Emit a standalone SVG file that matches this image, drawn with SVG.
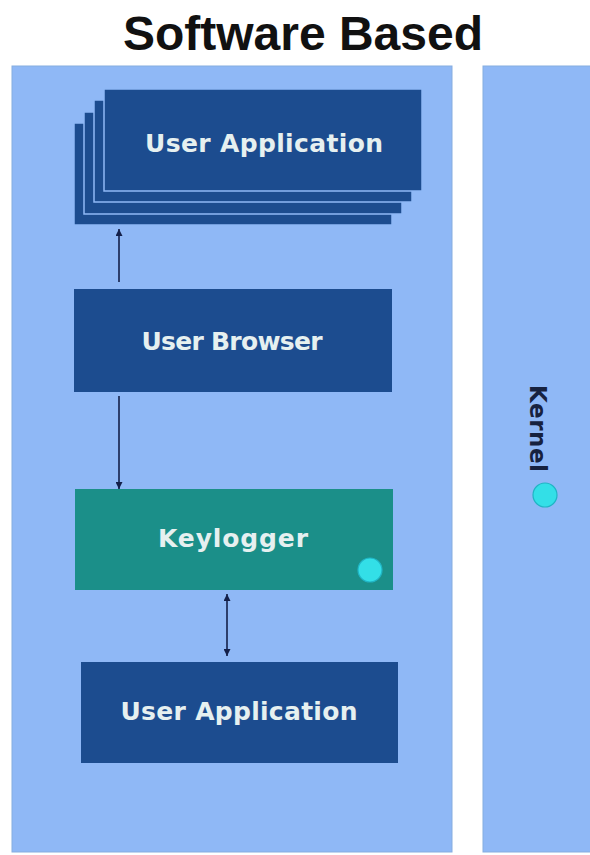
<svg xmlns="http://www.w3.org/2000/svg" width="590" height="855" viewBox="0 0 590 855">
  <defs>
    <style>
      .panel { fill: #8fb8f6; stroke: #86addf; stroke-width: 1; }
      .box { fill: #1c4c8f; }
      .stack { fill: #1c4c8f; stroke: #8fb8f6; stroke-width: 1.5; }
      .kl { fill: #1b8f89; }
      .lbl { font-family: "DejaVu Sans", "Liberation Sans", sans-serif; font-weight: bold; font-size: 25px; fill: #e6f0f0; text-anchor: middle; }
      .title { font-family: "Liberation Sans", Arial, sans-serif; font-weight: bold; font-size: 48px; fill: #111111; text-anchor: middle; }
      .kern { font-family: "DejaVu Sans", "Liberation Sans", sans-serif; font-weight: bold; font-size: 23px; fill: #17223f; }
      .dot { fill: #33dfe7; stroke: #20b4c4; stroke-width: 1.2; }
      .conn { stroke: #14204a; stroke-width: 1.6; fill: none; }
    </style>
    <marker id="ah" viewBox="0 0 10 10" refX="10" refY="5" markerWidth="7" markerHeight="7" orient="auto-start-reverse" markerUnits="userSpaceOnUse">
      <path d="M0,0 L10,5 L0,10 z" fill="#14204a"/>
    </marker>
  </defs>

  <rect width="590" height="855" fill="#ffffff"/>

  <!-- heading -->
  <text class="title" x="303" y="50" textLength="360" lengthAdjust="spacingAndGlyphs">Software Based</text>

  <!-- user space and kernel columns -->
  <g id="user-space">
    <rect class="panel" x="12" y="66" width="440" height="786"/>
  </g>
  <g id="kernel">
    <rect class="panel" x="483" y="66" width="110" height="786"/>
    <text class="kern" transform="translate(530,385) rotate(90)" textLength="87">Kernel</text>
    <circle class="dot" cx="545" cy="495" r="12"/>
  </g>

  <!-- stacked user applications -->
  <g id="user-apps">
    <rect class="stack" x="74" y="123" width="318" height="102"/>
    <rect class="stack" x="84" y="112" width="318" height="102"/>
    <rect class="stack" x="94" y="100" width="318" height="102"/>
    <rect class="stack" x="104" y="89" width="318" height="102"/>
    <text class="lbl" x="264" y="152" textLength="238">User Application</text>
  </g>

  <g id="user-browser">
    <rect class="box" x="74" y="289" width="318" height="103"/>
    <text class="lbl" x="232" y="350" textLength="181">User Browser</text>
  </g>

  <g id="keylogger">
    <rect class="kl" x="75" y="489" width="318" height="101"/>
    <text class="lbl" x="233" y="547" textLength="150">Keylogger</text>
    <circle class="dot" cx="370" cy="570" r="12"/>
  </g>

  <g id="user-app">
    <rect class="box" x="81" y="662" width="317" height="101"/>
    <text class="lbl" x="239" y="720" textLength="237">User Application</text>
  </g>

  <!-- connectors -->
  <g id="connectors">
    <line class="conn" x1="119" y1="282" x2="119" y2="229" marker-end="url(#ah)"/>
    <line class="conn" x1="119" y1="396" x2="119" y2="489" marker-end="url(#ah)"/>
    <line class="conn" x1="227" y1="594" x2="227" y2="656" marker-start="url(#ah)" marker-end="url(#ah)"/>
  </g>
</svg>
